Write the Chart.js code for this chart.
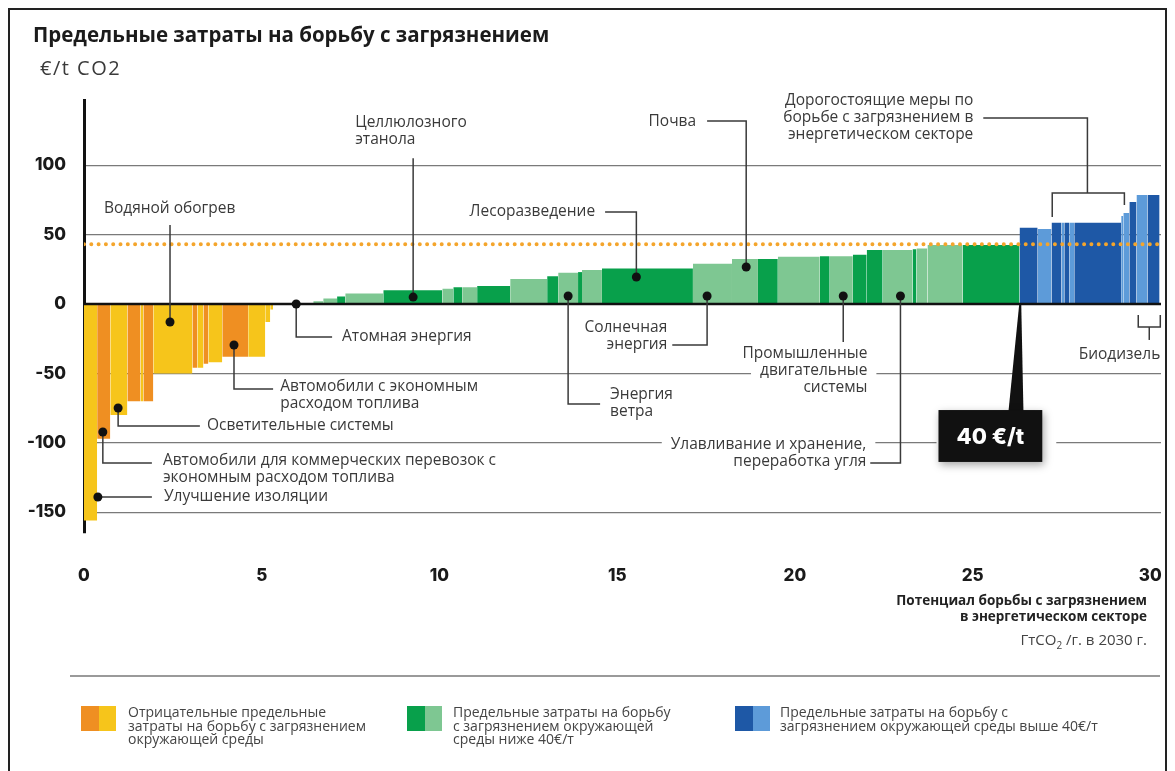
<!DOCTYPE html>
<html lang="ru">
<head>
<meta charset="utf-8">
<script src="https://cdn.jsdelivr.net/npm/chart.js@4.4.1/dist/chart.umd.min.js"></script>
<style>
    body { margin: 0; background: #fff; }
    #wrap { position: relative; width: 1175px; height: 771px; background: #fff; overflow: hidden; font-family: "Open Sans", sans-serif; }
    #chart { position: absolute; left: 0; top: 0; }
    .frame { position: absolute; left: 8px; top: 8px; width: 1159px; height: 800px; border: 2px solid #222; box-sizing: border-box; }
    .txt { position: absolute; white-space: nowrap; }
    .title { left: 33px; top: 22px; font: 700 20.5px/25px "Open Sans"; color: #1b1b1b; }
    .unit { left: 40px; top: 56px; font: 400 20px/24px "Open Sans"; letter-spacing: 1.5px; color: #3a3a3a; }
    .axis-title { right: 28px; top: 592px; text-align: right; font: 700 13.5px/16px "Open Sans"; color: #222; }
    .axis-unit { right: 28px; top: 630px; text-align: right; font: 400 15px/18px "Open Sans"; color: #444; }
    .axis-unit sub { font-size: 10px; }
    .sep { position: absolute; left: 70px; top: 675px; width: 1090px; height: 2px; background: #9a9a9a; }
    .swatch { position: absolute; top: 706px; width: 35px; height: 25px; display: flex; }
    .swatch span { flex: 1; }
    .legend-text { top: 705px; font: 400 14px/13.5px "Open Sans"; color: #444; }
</style>
</head>
<body>
<div id="wrap">
    <canvas id="chart" width="1175" height="771"></canvas>
    <div class="frame"></div>
    <div class="txt title">Предельные затраты на борьбу с загрязнением</div>
    <div class="txt unit">€/t CO2</div>
    <div class="txt axis-title">Потенциал борьбы с загрязнением<br>в энергетическом секторе</div>
    <div class="txt axis-unit">ГтCO<sub>2</sub> /г. в 2030 г.</div>
    <div class="sep"></div>

    <div class="swatch" style="left:81px"><span style="background:#ef8f22"></span><span style="background:#f6c51b"></span></div>
    <div class="txt legend-text" style="left:128px">Отрицательные предельные<br>затраты на борьбу с загрязнением<br>окружающей среды</div>
    <div class="swatch" style="left:407px"><span style="background:#08a04b"></span><span style="background:#7ec792"></span></div>
    <div class="txt legend-text" style="left:453px">Предельные затраты на борьбу<br>с загрязнением окружающей<br>среды ниже 40€/т</div>
    <div class="swatch" style="left:735px"><span style="background:#1e58a6"></span><span style="background:#5d9bd9"></span></div>
    <div class="txt legend-text" style="left:780px">Предельные затраты на борьбу с<br>загрязнением окружающей среды выше 40€/т</div>
</div>

<script>
// оси
const xTickValues = [0, 5, 10, 15, 20, 25, 30];
const xTickLabels = ["0", "5", "10", "15", "20", "25", "30"];
const yTickValues = [-150, -100, -50, 0, 50, 100];
const yTickLabels = ["-150", "-100", "-50", "0", "50", "100"];

// меры: ширина (ГтCO2), затраты (€/t), тип цвета
const barWidths = [
    0.37, 0.37, 0.48, 0.37, 0.08, 0.28, 1.10, 0.14, 0.17, 0.14, 0.39, 0.73, 0.48, 0.14, 0.08,
    1.13,
    0.28, 0.39, 0.23, 1.07, 1.66, 0.31, 0.25, 0.42, 0.93, 1.04, 0.31, 0.56, 0.11, 0.56,
    2.56, 1.10, 0.73, 0.56, 1.18, 0.28, 0.65, 0.39, 0.45, 0.84, 0.11, 0.31, 0.99, 1.60,
    0.51, 0.39, 0.28, 0.08, 0.14, 0.14, 1.32, 0.06, 0.17, 0.20, 0.31, 0.34
];
const barCosts = [
    -156, -97, -80, -70, -70, -70, -50, -46, -46, -43, -42, -38, -38, -13, -4,
    0,
    2, 4, 5.5, 7.5, 10, 11, 12, 12, 13, 18, 20, 22.5, 23, 24.5,
    25.5, 29, 32.5, 32.5, 34, 34.5, 34.5, 35.5, 39, 39, 39.5, 40, 42.5, 42.5,
    55, 54, 58.5, 58.5, 58.5, 58.5, 58.5, 63.5, 65.5, 73.5, 78.5, 78.5
];
const barKinds = [
    "yellow", "orange", "yellow", "orange", "yellow", "orange", "yellow", "orange", "yellow", "orange", "yellow", "orange", "yellow", "yellow", "yellow",
    "none",
    "light", "light", "dark", "light", "dark", "light", "dark", "light", "dark", "light", "dark", "light", "dark", "light",
    "dark", "light", "light", "dark", "light", "dark", "light", "dark", "dark", "light", "dark", "light", "light", "dark",
    "navy", "sky", "navy", "sky", "navy", "sky", "navy", "sky", "sky", "navy", "sky", "navy"
];
const thresholdCost = 43; // пунктир "40 €/t"

const kindColors = {
    orange: "#ef8f22", yellow: "#f6c51b",
    dark: "#08a04b", light: "#7ec792",
    navy: "#1e58a6", sky: "#5d9bd9"
};

// подписи (координаты в единицах осей)
const callouts = [
    { lines: ["Водяной обогрев"], at: [0.56, 69], align: "left", dot: [2.42, -13], path: [[2.42, -13], [2.42, 57]] },
    { lines: ["Улучшение изоляции"], at: [2.25, -139.1], align: "left", dot: [0.39, -139.1], path: [[0.39, -139.1], [1.91, -139.1]] },
    { lines: ["Автомобили для коммерческих перевозок с", "экономным расходом топлива"], at: [2.22, -113.1], align: "left",
      dot: [0.53, -92.2], path: [[0.53, -92.2], [0.53, -114.6], [1.91, -114.6]] },
    { lines: ["Осветительные системы"], at: [3.46, -87.9], align: "left", dot: [0.96, -74.9], path: [[0.96, -74.9], [0.96, -87.9], [3.26, -87.9]] },
    { lines: ["Автомобили с экономным", "расходом топлива"], at: [5.52, -59.8], align: "left",
      dot: [4.22, -29.5], path: [[4.22, -29.5], [4.22, -61.2], [5.32, -61.2]] },
    { lines: ["Атомная энергия"], at: [7.26, -23.8], align: "left", dot: [5.97, 0], path: [[5.97, 0], [5.97, -23.8], [6.98, -23.8]] },
    { lines: ["Целлюлозного", "этанола"], at: [7.63, 130.4], align: "left", dot: [9.26, 5], path: [[9.26, 5], [9.26, 105]] },
    { lines: ["Лесоразведение"], at: [14.38, 66.3], align: "right", dot: [15.54, 19.5], path: [[15.54, 19.5], [15.54, 66.3], [14.66, 66.3]] },
    { lines: ["Энергия", "ветра"], at: [14.8, -65.6], align: "left", dot: [13.62, 5.8], path: [[13.62, 5.8], [13.62, -72.1], [14.52, -72.1]] },
    { lines: ["Солнечная", "энергия"], at: [16.41, -17.3], align: "right", dot: [17.53, 5.8], path: [[17.53, 5.8], [17.53, -29.5], [16.55, -29.5]] },
    { lines: ["Почва"], at: [17.22, 131.1], align: "right", dot: [18.63, 26.7], path: [[18.63, 26.7], [18.63, 131.9], [17.53, 131.9]] },
    { lines: ["Промышленные", "двигательные", "системы"], at: [22.04, -36], align: "right", dot: [21.36, 5.8], path: [[21.36, 5.8], [21.36, -27.4]] },
    { lines: ["Улавливание и хранение,", "переработка угля"], at: [22.01, -101.6], align: "right",
      dot: [22.97, 5.8], path: [[22.97, 5.8], [22.97, -114.6], [22.12, -114.6]] },
    { lines: ["Дорогостоящие меры по", "борьбе с загрязнением в", "энергетическом секторе"], at: [25.02, 146.3], align: "right",
      path: [[25.30, 134], [28.23, 134], [28.23, 80]], extra: [[27.24, 62.7], [27.24, 80], [29.27, 80], [29.27, 71.3]] },
    { lines: ["Биодизель"], at: [30.28, -36.7], align: "right",
      path: [[29.97, -16.6], [29.97, -25.9]], extra: [[29.66, -7.9], [29.66, -16.6], [30.28, -16.6], [30.28, -7.9]] }
];
const priceBox = { text: "40 €/t", x: [24.04, 26.96], y: [-76.4, -113.8], tip: [26.34, 0], base: [26.01, 26.43] };

function buildBarSets() {
    const sets = {};
    let x = 0;
    barWidths.forEach((w, i) => {
        const k = barKinds[i];
        if (k !== "none") {
            sets[k] = sets[k] || [];
            sets[k].push({ x: x, y: barCosts[i] }, { x: x + w, y: barCosts[i] }, { x: x + w, y: null });
        }
        x += w;
    });
    return Object.keys(sets).map(k => ({
        data: sets[k],
        backgroundColor: kindColors[k],
        borderColor: "rgba(0,0,0,0)",
        borderWidth: 0,
        pointRadius: 0,
        pointHitRadius: 0,
        tension: 0,
        fill: "origin",
        order: 2
    }));
}

const totalWidth = barWidths.reduce((a, b) => a + b, 0);

const calloutPlugin = {
    id: "callouts",
    afterDatasetsDraw(chart) {
        const { ctx } = chart;
        const sx = chart.scales.x, sy = chart.scales.y;
        const px = v => sx.getPixelForValue(v);
        const py = v => sy.getPixelForValue(v);
        const lineH = 17;
        ctx.save();

        // нулевая линия
        ctx.strokeStyle = "#111";
        ctx.lineWidth = 2.5;
        ctx.beginPath();
        ctx.moveTo(px(0), py(0));
        ctx.lineTo(px(sx.max), py(0));
        ctx.stroke();

        ctx.font = '400 15.5px "Open Sans"';
        ctx.textBaseline = "middle";

        // белый фон под текстом (разрывы сетки)
        ctx.fillStyle = "#fff";
        callouts.forEach(c => {
            c.lines.forEach((t, j) => {
                const w = ctx.measureText(t).width;
                const x0 = c.align === "left" ? px(c.at[0]) : px(c.at[0]) - w;
                const yc = py(c.at[1]) + j * lineH;
                ctx.fillRect(x0 - 9, yc - 8, w + 18, 16);
            });
        });

        // линии-выноски
        ctx.strokeStyle = "#3a3a3a";
        ctx.lineWidth = 1.5;
        callouts.forEach(c => {
            [c.path, c.extra].forEach(p => {
                if (!p) return;
                ctx.beginPath();
                p.forEach((pt, i) => {
                    const X = px(pt[0]), Y = py(pt[1]);
                    i ? ctx.lineTo(X, Y) : ctx.moveTo(X, Y);
                });
                ctx.stroke();
            });
        });

        // точки
        ctx.fillStyle = "#111";
        callouts.forEach(c => {
            if (!c.dot) return;
            ctx.beginPath();
            ctx.arc(px(c.dot[0]), py(c.dot[1]), 4.5, 0, Math.PI * 2);
            ctx.fill();
        });

        // текст
        ctx.fillStyle = "#3a3a3a";
        callouts.forEach(c => {
            ctx.textAlign = c.align;
            c.lines.forEach((t, j) => ctx.fillText(t, px(c.at[0]), py(c.at[1]) + j * lineH));
        });

        // плашка 40 €/t
        const bx = px(priceBox.x[0]), bw = px(priceBox.x[1]) - bx;
        const by = py(priceBox.y[0]), bh = py(priceBox.y[1]) - by;
        ctx.fillStyle = "#fff";
        ctx.fillRect(bx - 2, by - 2, bw + 16, bh + 6);
        ctx.fillStyle = "#111";
        ctx.beginPath();
        ctx.moveTo(px(priceBox.tip[0]) - 1, py(priceBox.tip[1]));
        ctx.lineTo(px(priceBox.tip[0]) + 1, py(priceBox.tip[1]));
        ctx.lineTo(px(priceBox.base[1]), by + 1);
        ctx.lineTo(px(priceBox.base[0]), by + 1);
        ctx.closePath();
        ctx.fill();
        ctx.shadowColor = "rgba(0,0,0,0.35)";
        ctx.shadowBlur = 8;
        ctx.shadowOffsetX = 2;
        ctx.shadowOffsetY = 3;
        ctx.fillRect(bx, by, bw, bh);
        ctx.shadowColor = "rgba(0,0,0,0)";
        ctx.fillStyle = "#fff";
        ctx.font = '800 22px "Inter", "DejaVu Sans", sans-serif';
        ctx.textAlign = "center";
        ctx.fillText(priceBox.text, bx + bw / 2, by + bh / 2 + 1);

        ctx.restore();
    }
};

const ctx = document.getElementById("chart").getContext("2d");
const tickFont = { family: '"Inter", "DejaVu Sans", sans-serif', size: 17, weight: "800" };

new Chart(ctx, {
    type: "line",
    data: {
        datasets: [
            {
                data: [{ x: 0, y: thresholdCost }, { x: totalWidth, y: thresholdCost }],
                borderColor: "#f4a52c",
                borderWidth: 4,
                borderDash: [0, 7.3],
                borderCapStyle: "round",
                pointRadius: 0,
                fill: false,
                order: 0
            },
            ...buildBarSets()
        ]
    },
    options: {
        responsive: false,
        animation: false,
        layout: { padding: { left: 0, right: 14, top: 100, bottom: 178 } },
        plugins: { legend: { display: false }, tooltip: { enabled: false } },
        scales: {
            x: {
                type: "linear",
                min: 0,
                max: 30.3,
                afterFit: s => { s.height = 60; s.paddingLeft = 0; s.paddingRight = 0; },
                afterBuildTicks: s => { s.ticks = xTickValues.map(v => ({ value: v })); },
                grid: { display: false, drawTicks: false },
                border: { display: false },
                ticks: {
                    padding: 33,
                    color: "#1a1a1a",
                    font: tickFont,
                    maxRotation: 0,
                    callback: v => xTickLabels[xTickValues.indexOf(v)]
                }
            },
            y: {
                min: -165,
                max: 147,
                afterFit: s => { s.width = 84; s.paddingTop = 0; s.paddingBottom = 0; },
                afterBuildTicks: s => { s.ticks = yTickValues.map(v => ({ value: v })); },
                grid: {
                    drawTicks: false,
                    lineWidth: 1.2,
                    color: c => (c.tick && c.tick.value === 0) ? "rgba(0,0,0,0)" : "#7a7a7a"
                },
                border: { display: true, color: "#111", width: 3 },
                ticks: {
                    padding: 18,
                    color: "#1a1a1a",
                    font: tickFont,
                    callback: v => yTickLabels[yTickValues.indexOf(v)]
                }
            }
        }
    },
    plugins: [calloutPlugin]
});
</script>
</body>
</html>
